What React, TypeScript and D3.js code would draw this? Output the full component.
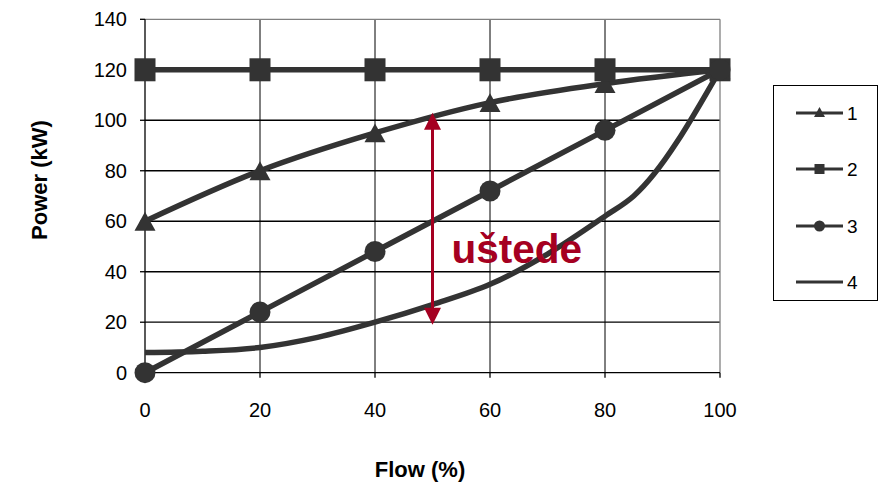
import React from "react";
import * as d3 from "d3";

const xTicks = [0, 20, 40, 60, 80, 100];
const yTicks = [0, 20, 40, 60, 80, 100, 120, 140];

const flow = [0, 20, 40, 60, 80, 100];
const series1 = [60, 80, 95, 107, 114.5, 120];
const series2 = [120, 120, 120, 120, 120, 120];
const series3 = [0, 24, 48, 72, 96, 120];
const series4Flow = [0, 10, 20, 30, 40, 50, 60, 70, 80, 85, 100];
const series4 = [8, 8.5, 10, 14, 20, 27, 35, 47, 62, 70, 120];

const legendLabels = ["1", "2", "3", "4"];
const arrowX = 50;
const arrowTop = 103;
const arrowBottom = 19;
const annotation = "uštede";

const W = 879;
const H = 486;
const FONT = "'Liberation Sans', Arial, sans-serif";
const DARK = "#333333";
const RED = "#A50021";

const x = d3.scaleLinear().domain([0, 100]).range([145, 720]);
const y = d3.scaleLinear().domain([0, 140]).range([372.7, 19.3]);

type Pt = [number, number];

function tri(cx: number, cy: number, s: number) {
  const h = s * 0.9;
  return `M${cx},${cy - h / 2}L${cx + s / 2},${cy + h / 2}L${cx - s / 2},${cy + h / 2}Z`;
}

export default function App() {
  const smooth = d3.line<Pt>().x((d) => x(d[0])).y((d) => y(d[1])).curve(d3.curveMonotoneX);
  const straight = d3.line<Pt>().x((d) => x(d[0])).y((d) => y(d[1]));
  const s1: Pt[] = flow.map((f, i) => [f, series1[i]]);
  const s2: Pt[] = flow.map((f, i) => [f, series2[i]]);
  const s3: Pt[] = flow.map((f, i) => [f, series3[i]]);
  const s4: Pt[] = series4Flow.map((f, i) => [f, series4[i]]);

  const ax = x(arrowX);
  const at = y(arrowTop);
  const ab = y(arrowBottom);
  const ah = 17;
  const aw = 8.5;

  const legX0 = 796;
  const legX1 = 843;
  const legY = [113, 169, 226, 282];

  return (
    <svg width={W} height={H} style={{ position: "absolute", left: 0, top: 0, background: "#fff" }} fontFamily={FONT}>
      <rect width={W} height={H} fill="#fff" />
      {/* grid */}
      {yTicks.slice(1, -1).map((t) => (
        <line key={"gy" + t} x1={x(0)} x2={x(100)} y1={y(t)} y2={y(t)} stroke="#000" strokeWidth={1.3} />
      ))}
      {xTicks.slice(1, -1).map((t) => (
        <line key={"gx" + t} x1={x(t)} x2={x(t)} y1={y(0)} y2={y(140)} stroke="#000" strokeWidth={1} />
      ))}
      <line x1={x(0)} x2={x(100)} y1={y(140)} y2={y(140)} stroke="#808080" strokeWidth={1.3} />
      <line x1={x(100)} x2={x(100)} y1={y(140)} y2={y(0)} stroke="#808080" strokeWidth={1.3} />
      {/* axes */}
      <line x1={x(0)} x2={x(0)} y1={y(0)} y2={y(140)} stroke="#000" strokeWidth={1.3} />
      <line x1={x(0)} x2={x(100)} y1={y(0)} y2={y(0)} stroke="#000" strokeWidth={1.3} />
      {yTicks.map((t) => (
        <g key={"yt" + t}>
          <line x1={x(0) - 5} x2={x(0)} y1={y(t)} y2={y(t)} stroke="#000" strokeWidth={1.3} />
          <text x={127} y={y(t) + 7} textAnchor="end" fontSize={20} fill="#000">{t}</text>
        </g>
      ))}
      {xTicks.map((t) => (
        <g key={"xt" + t}>
          <line x1={x(t)} x2={x(t)} y1={y(0)} y2={y(0) + 5} stroke="#000" strokeWidth={1.3} />
          <text x={x(t)} y={417} textAnchor="middle" fontSize={20} fill="#000">{t}</text>
        </g>
      ))}
      {/* series */}
      <path d={smooth(s1) || ""} fill="none" stroke={DARK} strokeWidth={5.5} />
      <path d={straight(s2) || ""} fill="none" stroke={DARK} strokeWidth={5.5} />
      <path d={straight(s3) || ""} fill="none" stroke={DARK} strokeWidth={5.5} />
      <path d={smooth(s4) || ""} fill="none" stroke={DARK} strokeWidth={5.5} />
      {s1.map((d, i) => (
        <path key={"m1" + i} d={tri(x(d[0]), y(d[1]), 21)} fill={DARK} />
      ))}
      {s2.map((d, i) => (
        <rect key={"m2" + i} x={x(d[0]) - 10.5} y={y(d[1]) - 11.5} width={21} height={23} fill={DARK} />
      ))}
      {s3.map((d, i) => (
        <circle key={"m3" + i} cx={x(d[0])} cy={y(d[1])} r={10.5} fill={DARK} />
      ))}
      {/* annotation arrow */}
      <line x1={ax} x2={ax} y1={at + ah - 1} y2={ab - ah + 1} stroke={RED} strokeWidth={3} />
      <path d={`M${ax},${at}L${ax + aw},${at + ah}L${ax - aw},${at + ah}Z`} fill={RED} />
      <path d={`M${ax},${ab}L${ax + aw},${ab - ah}L${ax - aw},${ab - ah}Z`} fill={RED} />
      <text x={ax + 19} y={263} fontSize={40.5} fontWeight="bold" fill={RED}>{annotation}</text>
      {/* axis titles */}
      <text x={420} y={477} textAnchor="middle" fontSize={22} fontWeight="bold" fill="#000">Flow (%)</text>
      <text transform={`translate(47,180) rotate(-90)`} textAnchor="middle" fontSize={22} fontWeight="bold" fill="#000">Power (kW)</text>
      {/* legend */}
      <rect x={773.5} y={85.5} width={104} height={215} fill="#fff" stroke="#000" strokeWidth={1} />
      {legendLabels.map((l, i) => {
        const cy = legY[i];
        const cx = (legX0 + legX1) / 2;
        return (
          <g key={"lg" + l}>
            <line x1={legX0} x2={legX1} y1={cy} y2={cy} stroke={DARK} strokeWidth={3} />
            {i === 0 && <path d={tri(cx, cy - 1, 11)} fill={DARK} />}
            {i === 1 && <rect x={cx - 5} y={cy - 5} width={10} height={10} fill={DARK} />}
            {i === 2 && <circle cx={cx} cy={cy} r={5.5} fill={DARK} />}
            <text x={847} y={cy + 7} fontSize={19} fill="#000">{l}</text>
          </g>
        );
      })}
    </svg>
  );
}
